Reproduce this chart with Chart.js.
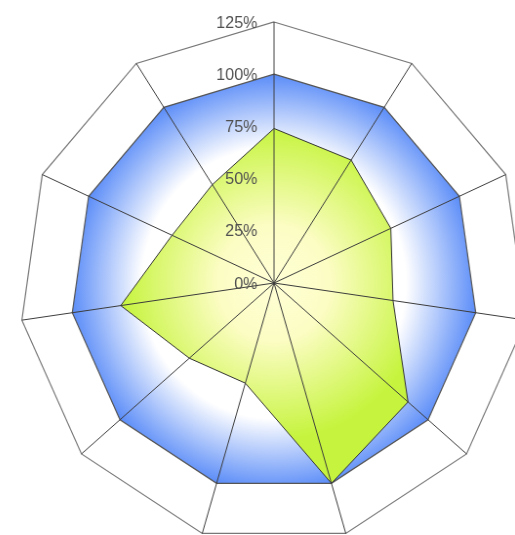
<!DOCTYPE html>
<html><head><meta charset="utf-8">
<script src="https://cdn.jsdelivr.net/npm/chart.js@4/dist/chart.umd.min.js"></script>
<style>
html,body{margin:0;padding:0;background:#fff;overflow:hidden;width:515px;height:535px;}
#wrap{position:absolute;left:-6px;top:3px;width:560px;height:560px;transform:scaleX(0.976);transform-origin:280px 280px;}
</style></head><body>
<div id="wrap"><canvas id="c" width="560" height="560"></canvas></div>
<script>
const categories = ['A','B','C','D','E','F','G','H','I','J','K'];
const seriesValues = [74, 70, 63, 59, 87, 100, 50, 55, 76, 55, 56];
const seriesMax = [100, 100, 100, 100, 100, 100, 100, 100, 100, 100, 100];
const tickValues = [0, 25, 50, 75, 100, 125];
const tickLabels = ['0%', '25%', '50%', '75%', '100%', '125%'];

function radialFill(stops) {
  return (context) => {
    const chart = context.chart;
    const s = chart.scales.r;
    if (!s || !chart.chartArea) return stops[stops.length - 1][1];
    const g = chart.ctx.createRadialGradient(s.xCenter, s.yCenter, 0, s.xCenter, s.yCenter, s.drawingArea);
    stops.forEach(([o, c]) => g.addColorStop(o, c));
    return g;
  };
}

const tickLabelPlugin = {
  id: 'tickLabelPlugin',
  afterDraw(chart) {
    const s = chart.scales.r;
    const ctx = chart.ctx;
    ctx.save();
    ctx.font = '16.5px "Liberation Sans", Arial, sans-serif';
    ctx.fillStyle = '#505050';
    ctx.textAlign = 'right';
    ctx.textBaseline = 'middle';
    tickValues.forEach((v, i) => {
      const d = s.getDistanceFromCenterForValue(v);
      ctx.fillText(tickLabels[i], s.xCenter - 17, s.yCenter - d + 1);
    });
    ctx.restore();
  }
};

new Chart(document.getElementById('c'), {
  type: 'radar',
  data: {
    labels: categories,
    datasets: [
      {
        data: seriesValues,
        backgroundColor: radialFill([[0, '#ffffd6'], [0.22, '#fcfdc4'], [0.6, '#c6f43e'], [1, '#c6f43e']]),
        borderColor: '#333333',
        borderWidth: 1,
        pointRadius: 0,
        fill: true
      },
      {
        data: seriesMax,
        backgroundColor: radialFill([[0, '#ffffff'], [0.52, '#ffffff'], [0.8, '#5a8cf8'], [1, '#5a8cf8']]),
        borderColor: '#555555',
        borderWidth: 1.2,
        pointRadius: 0,
        fill: true
      }
    ]
  },
  options: {
    responsive: false,
    animation: false,
    layout: { padding: 19 },
    plugins: { legend: { display: false }, tooltip: { enabled: false } },
    scales: {
      r: {
        min: 0,
        max: 125,
        ticks: { stepSize: 25, display: false, z: 1 },
        pointLabels: { display: false },
        grid: {
          z: 1,
          color: (c) => (c.tick && c.tick.value === 125) ? '#777777' : 'rgba(0,0,0,0)',
          lineWidth: 1.2
        },
        angleLines: { color: '#3c3c3c', lineWidth: 1 }
      }
    }
  },
  plugins: [tickLabelPlugin]
});
</script>
</body></html>
